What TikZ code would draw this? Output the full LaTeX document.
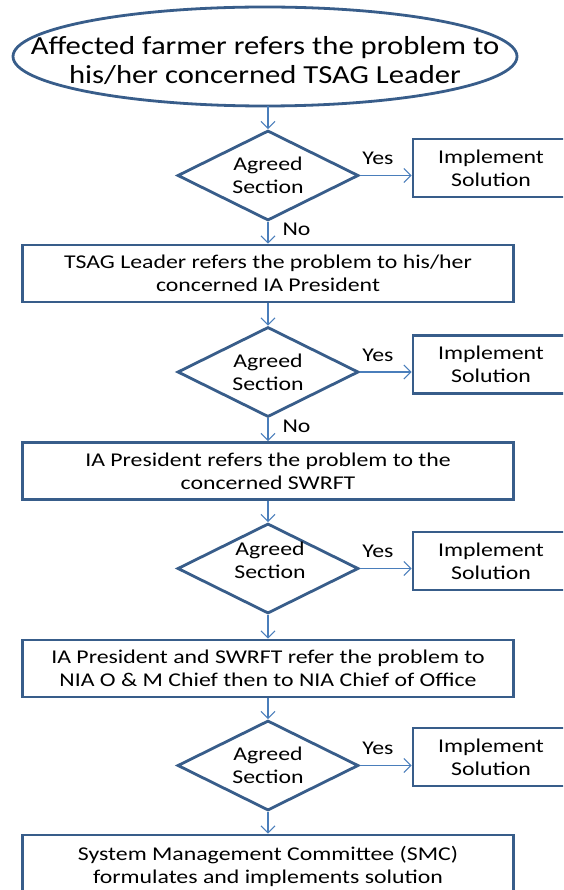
\documentclass[tikz,border=0pt]{standalone}
\usepackage{fontspec}
\setmainfont{Carlito}
\newfontfamily\widefont[FakeStretch=1.22]{Carlito}
\newfontfamily\bigwidefont[FakeStretch=1.18]{Carlito}
\usetikzlibrary{shapes.geometric,arrows.meta}
\definecolor{boxline}{HTML}{385D8A}
\definecolor{arrline}{HTML}{4A7EBB}
\tikzset{
  x=1pt,y=-1pt,
  base/.style={draw=boxline,line width=2.8pt,fill=white,inner sep=0pt,align=center,font=\widefont\fontsize{19.5}{23}\selectfont},
  startshape/.style={draw=boxline,line width=2.8pt,fill=white},
  starttext/.style={inner sep=0pt,align=center,font=\bigwidefont\fontsize{26}{29}\selectfont},
  decision/.style={base,diamond,aspect=2,minimum width=181,minimum height=90},
  process/.style={base,rectangle,minimum width=491,minimum height=57},
  impl/.style={base,rectangle,minimum width=156,minimum height=58},
  conn/.style={draw=arrline,line width=1.1pt,-{Straight Barb[length=7pt,width=14pt,line width=1.1pt]}},
  lbl/.style={font=\widefont\fontsize{19.5}{23}\selectfont,inner sep=0pt,align=center},
  yeslbl/.style={lbl,pos=0.35,anchor=south,yshift=10pt},
  nolbl/.style={lbl,pos=0.35,anchor=west,xshift=14pt}
}
\begin{document}
\begin{tikzpicture}
\useasboundingbox (0,0) rectangle (563,890);
\clip (0,0) rectangle (563,890);
\fill[white] (0,0) rectangle (563,890);
\coordinate (startc) at (265,56.5);
\draw[startshape] (startc) ellipse [x radius=252, y radius=49.5];
\coordinate (startbot) at (268,106);
\node[starttext] (start) at (265,61) {Affected farmer refers the problem to\\his/her concerned TSAG Leader};
\node[decision] (d1) at (268,175.5) {Agreed\\Section};
\node[impl] (i1) at (491,168) {Implement\\Solution};
\node[process] (r1) at (268,273.5) {TSAG Leader refers the problem to his/her\\concerned IA President};
\node[decision] (d2) at (268,372) {Agreed\\Section};
\node[impl] (i2) at (491,364.5) {Implement\\Solution};
\node[process] (r2) at (268,471) {IA President refers the problem to the\\concerned SWRFT};
\node[decision] (d3) at (268,568.5) {};
\node[lbl] (d3text) at (270,560) {Agreed\\Section};
\node[impl] (i3) at (491,561) {Implement\\Solution};
\node[process] (r3) at (268,668.5) {IA President and SWRFT refer the problem to\\NIA O \& M Chief then to NIA Chief of Office};
\node[decision] (d4) at (268,765.5) {Agreed\\Section};
\node[impl] (i4) at (491,757) {Implement\\Solution};
\node[process,minimum height=62] (r4) at (268,866) {System Management Committee (SMC)\\formulates and implements solution};

\draw[conn] (startbot) -- (d1.north);
\draw[conn] (d1.south) -- (r1.north) node[nolbl] {No};
\draw[conn] (d1.east) -- (d1.east -| i1.west) node[yeslbl] {Yes};
\draw[conn] (r1.south) -- (d2.north);
\draw[conn] (d2.south) -- (r2.north) node[nolbl] {No};
\draw[conn] (d2.east) -- (d2.east -| i2.west) node[yeslbl] {Yes};
\draw[conn] (r2.south) -- (d3.north);
\draw[conn] (d3.east) -- (d3.east -| i3.west) node[yeslbl] {Yes};
\draw[conn] (d3.south) -- (r3.north);
\draw[conn] (r3.south) -- (d4.north);
\draw[conn] (d4.east) -- (d4.east -| i4.west) node[yeslbl] {Yes};
\draw[conn] (d4.south) -- (r4.north);
\end{tikzpicture}
\end{document}
